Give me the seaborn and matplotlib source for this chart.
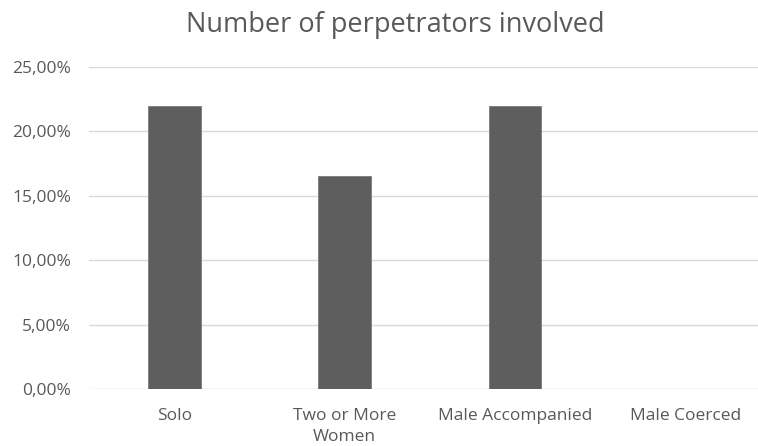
import matplotlib
matplotlib.use("Agg")
import matplotlib.pyplot as plt
import seaborn as sns
import pandas as pd
from matplotlib.ticker import FuncFormatter

categories = ["Solo", "Two or More\nWomen", "Male Accompanied", "Male Coerced"]
shares = [22.0, 16.5, 22.0, 0.0]
y_ticks = [0, 5, 10, 15, 20, 25]

df = pd.DataFrame({"category": categories, "share": shares})

sns.set_theme(style="white")
plt.rcParams["font.family"] = ["Open Sans", "DejaVu Sans"]

text_color = "#595959"
fig = plt.figure(figsize=(7.58, 4.46), dpi=100)
ax = fig.add_axes([0.1174, 0.1278, 0.8992, 0.7220])

sns.barplot(data=df, x="category", y="share", color="#5e5e5e", width=0.31,
            saturation=1, edgecolor="#7a7a7a", linewidth=0.6, ax=ax, zorder=3)

ax.set_ylim(0, 25)
ax.set_yticks(y_ticks)
ax.yaxis.set_major_formatter(FuncFormatter(lambda v, _: f"{v:.2f}%".replace(".", ",")))
ax.grid(axis="y", color="#d9d9d9", linewidth=1.0, zorder=0)
ax.set_axisbelow(True)
for s in ax.spines.values():
    s.set_visible(False)
ax.tick_params(axis="y", length=0, pad=13, labelsize=12.5, labelcolor=text_color)
ax.tick_params(axis="x", length=0, pad=14, labelsize=12.5, labelcolor=text_color)
ax.set_xlabel("")
ax.set_ylabel("")
for lab in ax.get_xticklabels():
    lab.set_linespacing(1.35)

fig.text(0.522, 0.945, "Number of perpetrators involved", ha="center", va="center",
         fontsize=19.5, color=text_color)

fig.savefig("out.png", dpi=100)
